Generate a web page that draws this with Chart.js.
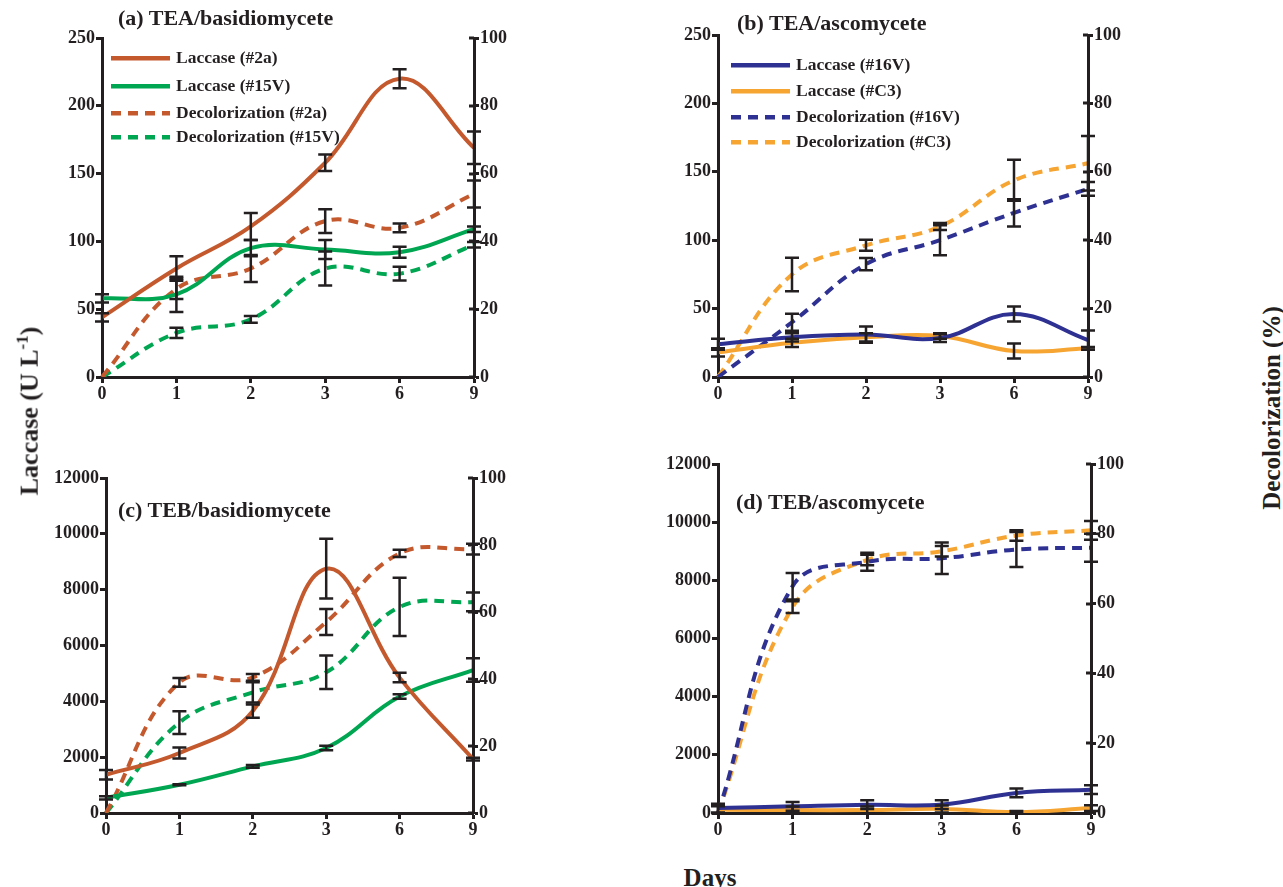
<!DOCTYPE html>
<html>
<head>
<meta charset="utf-8">
<script src="https://cdn.jsdelivr.net/npm/chart.js@4.4.0/dist/chart.umd.min.js"></script>
<style>
  body { margin: 0; background: #fff; width: 1283px; height: 887px; position: relative; overflow: hidden;
         font-family: "Liberation Serif", "Times New Roman", serif; color: #231f20; }
  canvas { position: absolute; }
  .t { position: absolute; white-space: nowrap; font-weight: bold; line-height: 1; }
  .lg { position: absolute; white-space: nowrap; font-weight: bold; font-size: 17.5px; line-height: 1; transform: translateY(-50%); }
  .lg svg { position: absolute; top: 50%; margin-top: -4px; }
</style>
</head>
<body>
<canvas id="pa" width="484" height="417" style="left:40px;top:0px"></canvas>
<canvas id="pb" width="482" height="417" style="left:656px;top:0px"></canvas>
<canvas id="pc" width="479" height="403" style="left:44px;top:450px"></canvas>
<canvas id="pd" width="485" height="403" style="left:656px;top:450px"></canvas>

<div class="t" style="left:118px;top:18px;font-size:22px;transform:translateY(-50%)">(a) TEA/basidiomycete</div>
<div class="t" style="left:737px;top:23px;font-size:22px;transform:translateY(-50%)">(b) TEA/ascomycete</div>
<div class="t" style="left:118px;top:510px;font-size:22px;transform:translateY(-50%)">(c) TEB/basidiomycete</div>
<div class="t" style="left:736px;top:502px;font-size:22px;transform:translateY(-50%)">(d) TEB/ascomycete</div>

<div class="t" style="left:28px;top:411px;font-size:26px;transform:translate(-50%,-50%) rotate(-90deg)">Laccase (U L<sup style="font-size:17px">-1</sup>)</div>
<div class="t" style="left:1271px;top:408px;font-size:25px;transform:translate(-50%,-50%) rotate(-90deg)">Decolorization (%)</div>
<div class="t" style="left:710px;top:877px;font-size:25px;transform:translate(-50%,-50%)">Days</div>

<div id="legends"></div>

<script>
// x categories (days)
const days = ['0', '1', '2', '3', '6', '9'];

// (a) TEA/basidiomycete
const lacA2a = [44, 80, 111, 158, 220, 169];
const lacA2aErr = [3, 9, 10, 6, 7, 12];
const lacA15V = [58, 61, 95, 94, 92, 109];
const lacA15VErr = [3, 13, 6, 7, 4, 2];
const decA2a = [0, 26, 32, 46, 44, 54];
const decA2aErr = [0, 3, 4, 3.5, 1.3, 4];
const decA15V = [0, 13, 17, 32, 30.5, 39];
const decA15VErr = [0, 1.5, 1, 5, 2, 0.8];

// (b) TEA/ascomycete
const lacB16V = [24, 29, 31, 28.5, 46, 27];
const lacB16VErr = [4, 3, 6, 3, 5.5, 7];
const lacBC3 = [18, 25, 29, 30, 19, 21];
const lacBC3Err = [3, 3, 3, 2, 5.5, 1];
const decB16V = [0, 16, 33, 40, 48, 55];
const decB16VErr = [0, 2.5, 1.8, 4.4, 4, 2];
const decBC3 = [0, 30, 38.5, 44, 57.5, 62.5];
const decBC3Err = [0, 4.9, 1.6, 1, 6, 8];

// (c) TEB/basidiomycete
const lacC2a = [1370, 2150, 3650, 8750, 4850, 1930];
const lacC2aErr = [170, 200, 240, 1070, 170, 50];
const lacC15V = [540, 1010, 1670, 2330, 4170, 5120];
const lacC15VErr = [60, 20, 50, 80, 80, 420];
const decC2a = [0, 39, 40.5, 57, 77.5, 78.8];
const decC2aErr = [0, 1.3, 1, 3.9, 1.1, 1.6];
const decC15V = [0, 27, 36, 42, 61.5, 63];
const decC15VErr = [0, 3.4, 3, 5, 8.7, 2.8];

// (d) TEB/ascomycete
const lacD16V = [170, 230, 285, 290, 690, 800];
const lacD16VErr = [150, 150, 150, 150, 150, 150];
const lacDC3 = [110, 100, 100, 140, 30, 170];
const lacDC3Err = [120, 120, 120, 120, 40, 100];
const decD16V = [0, 65, 72, 73, 75.5, 76];
const decD16VErr = [0, 3.8, 2.6, 4.5, 5, 4];
const decDC3 = [0, 59, 72.5, 75, 79.5, 81];
const decDC3Err = [0, 1.7, 1.5, 1.5, 1.5, 2.7];

const rust = '#C4592E', green = '#00A651', blue = '#2E3192', orange = '#F6A532';
const ink = '#231f20';
const fontFam = '"Liberation Serif", "Times New Roman", serif';
const dash = [10, 7];

// black I-shaped error bars, placed with the chart's own scales
const errorBars = {
  id: 'errorBars',
  afterDatasetsDraw(chart) {
    const ctx = chart.ctx;
    ctx.save();
    ctx.strokeStyle = ink;
    ctx.lineWidth = 2.5;
    chart.data.datasets.forEach((ds, i) => {
      if (!ds.errors) return;
      const meta = chart.getDatasetMeta(i);
      const sc = chart.scales[ds.yAxisID];
      meta.data.forEach((pt, j) => {
        const e = ds.errors[j];
        if (!e) return;
        const top = sc.getPixelForValue(ds.data[j] + e);
        const bot = sc.getPixelForValue(ds.data[j] - e);
        const x = pt.x;
        ctx.beginPath();
        ctx.moveTo(x, top); ctx.lineTo(x, bot);
        ctx.moveTo(x - 7, top); ctx.lineTo(x + 7, top);
        ctx.moveTo(x - 7, bot); ctx.lineTo(x + 7, bot);
        ctx.stroke();
      });
    });
    ctx.restore();
  },
  // right axis tick marks also reach inside the plot
  afterDraw(chart) {
    const sc = chart.scales.y1;
    const ctx = chart.ctx;
    ctx.save();
    ctx.strokeStyle = ink;
    ctx.lineWidth = 3;
    sc.ticks.forEach(t => {
      const y = Math.round(sc.getPixelForValue(t.value));
      ctx.beginPath();
      ctx.moveTo(chart.chartArea.right - 5, y);
      ctx.lineTo(chart.chartArea.right, y);
      ctx.stroke();
    });
    ctx.restore();
  }
};

function series(label, data, errors, color, dashed) {
  return {
    label: label,
    data: data,
    errors: errors,
    borderColor: color,
    backgroundColor: color,
    borderWidth: 4,
    borderDash: dashed ? dash : [],
    tension: 0.4,
    pointRadius: 0,
    fill: false,
    yAxisID: dashed ? 'y1' : 'y'
  };
}

function axisTicks(extra) {
  return Object.assign({ color: ink, font: { family: fontFam, size: 18, weight: 'bold' } }, extra);
}

function panel(id, yMax, yStep, padTop, datasets) {
  return new Chart(document.getElementById(id), {
    type: 'line',
    data: { labels: days, datasets: datasets },
    options: {
      responsive: false,
      animation: false,
      layout: { padding: { top: padTop, left: 0, right: 0, bottom: 0 } },
      plugins: { legend: { display: false }, tooltip: { enabled: false } },
      scales: {
        x: {
          offset: false,
          grid: { drawOnChartArea: false, tickLength: 6, tickWidth: 3, tickColor: ink },
          border: { color: ink, width: 3 },
          ticks: axisTicks({ padding: 1, maxRotation: 0, autoSkip: false }),
          afterFit(s) { s.height = 40; s.paddingLeft = 0; s.paddingRight = 0; }
        },
        y: {
          position: 'left',
          min: 0, max: yMax,
          grid: { drawOnChartArea: false, tickLength: 6, tickWidth: 3, tickColor: ink },
          border: { color: ink, width: 3 },
          ticks: axisTicks({ stepSize: yStep, padding: 1, callback: v => String(v) }),
          afterFit(s) { s.width = 62; s.paddingTop = 0; s.paddingBottom = 0; }
        },
        y1: {
          position: 'right',
          min: 0, max: 100,
          grid: { drawOnChartArea: false, tickLength: 5, tickWidth: 3, tickColor: ink },
          border: { color: ink, width: 3 },
          ticks: axisTicks({ stepSize: 20, padding: 1 }),
          afterFit(s) { s.width = 50; s.paddingTop = 0; s.paddingBottom = 0; }
        }
      }
    },
    plugins: [errorBars]
  });
}

panel('pa', 250, 50, 38, [
  series('Laccase (#2a)', lacA2a, lacA2aErr, rust, false),
  series('Laccase (#15V)', lacA15V, lacA15VErr, green, false),
  series('Decolorization (#2a)', decA2a, decA2aErr, rust, true),
  series('Decolorization (#15V)', decA15V, decA15VErr, green, true)
]);

panel('pb', 250, 50, 35, [
  series('Laccase (#16V)', lacB16V, lacB16VErr, blue, false),
  series('Laccase (#C3)', lacBC3, lacBC3Err, orange, false),
  series('Decolorization (#16V)', decB16V, decB16VErr, blue, true),
  series('Decolorization (#C3)', decBC3, decBC3Err, orange, true)
]);

panel('pc', 12000, 2000, 28, [
  series('Laccase (#2a)', lacC2a, lacC2aErr, rust, false),
  series('Laccase (#15V)', lacC15V, lacC15VErr, green, false),
  series('Decolorization (#2a)', decC2a, decC2aErr, rust, true),
  series('Decolorization (#15V)', decC15V, decC15VErr, green, true)
]);

panel('pd', 12000, 2000, 14, [
  series('Laccase (#16V)', lacD16V, lacD16VErr, blue, false),
  series('Laccase (#C3)', lacDC3, lacDC3Err, orange, false),
  series('Decolorization (#16V)', decD16V, decD16VErr, blue, true),
  series('Decolorization (#C3)', decDC3, decDC3Err, orange, true)
]);

// legends for panels (a) and (b)
const legendA = [
  ['Laccase (#2a)', rust, false], ['Laccase (#15V)', green, false],
  ['Decolorization (#2a)', rust, true], ['Decolorization (#15V)', green, true]
];
const legendB = [
  ['Laccase (#16V)', blue, false], ['Laccase (#C3)', orange, false],
  ['Decolorization (#16V)', blue, true], ['Decolorization (#C3)', orange, true]
];

function drawLegend(items, lineX, textX, rows) {
  const host = document.getElementById('legends');
  items.forEach((it, i) => {
    const d = document.createElement('div');
    d.className = 'lg';
    d.style.left = textX + 'px';
    d.style.top = rows[i] + 'px';
    d.textContent = it[0];
    const w = textX - lineX - 6;
    const svg = document.createElementNS('http://www.w3.org/2000/svg', 'svg');
    svg.setAttribute('width', w);
    svg.setAttribute('height', 8);
    svg.style.left = (lineX - textX) + 'px';
    const ln = document.createElementNS('http://www.w3.org/2000/svg', 'line');
    ln.setAttribute('x1', 0); ln.setAttribute('x2', w);
    ln.setAttribute('y1', 4); ln.setAttribute('y2', 4);
    ln.setAttribute('stroke', it[1]);
    ln.setAttribute('stroke-width', 4.5);
    if (it[2]) ln.setAttribute('stroke-dasharray', '10 7');
    svg.appendChild(ln);
    d.appendChild(svg);
    host.appendChild(d);
  });
}

drawLegend(legendA, 111, 176, [58, 86, 113, 137]);
drawLegend(legendB, 731, 796, [65, 91, 117, 142]);
</script>
</body>
</html>
